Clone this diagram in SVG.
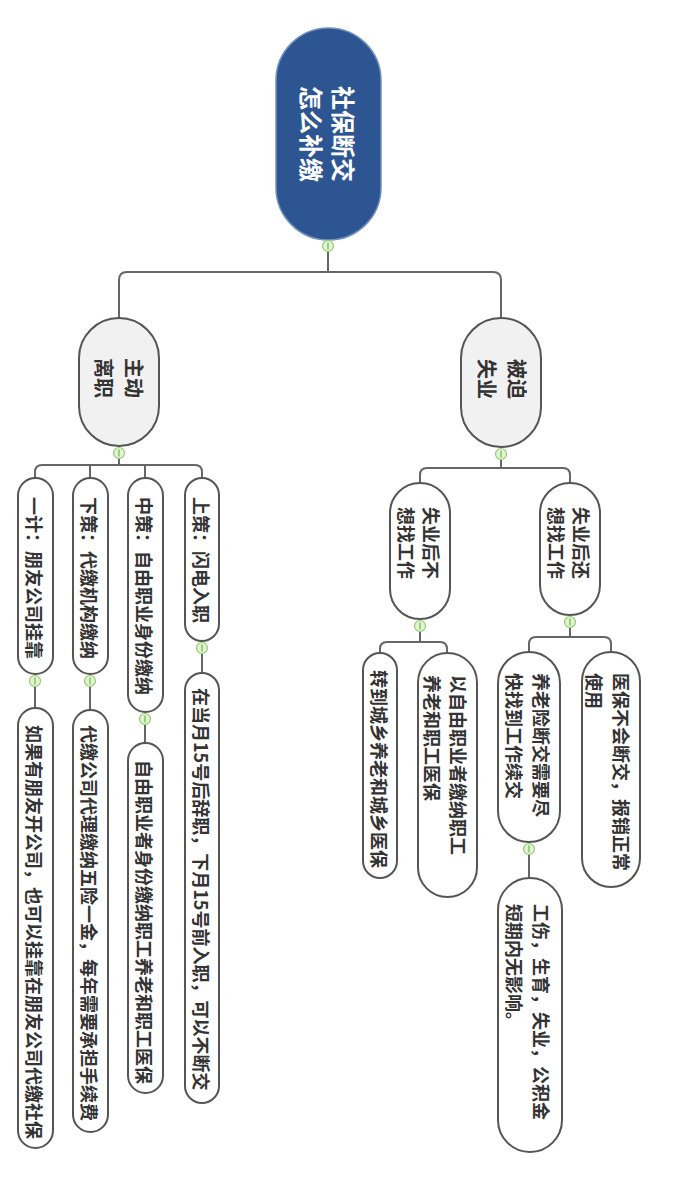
<svg xmlns="http://www.w3.org/2000/svg" width="700" height="1192" viewBox="0 0 700 1192">
<style>
.node{fill:#ffffff;stroke:#555555;stroke-width:2}
.l1{fill:#f1f1f1;stroke:#555555;stroke-width:2}
.root{fill:#2c5592;stroke:#6f8fbf;stroke-width:1.5}
.t{font-family:"Noto Sans CJK SC","Noto Sans",sans-serif;font-size:18px;font-weight:bold;fill:#333333;dominant-baseline:central}
.t1{font-size:20px}
.tr{font-size:24px;fill:#ffffff}
.conn{fill:none;stroke:#666666;stroke-width:2}
.cc{fill:#e2f3d2;stroke:#93cc72;stroke-width:1.2}
.cm{stroke:#6fb64a;stroke-width:1.2}
</style>
<rect width="700" height="1192" fill="#ffffff"/>
<g id="connectors">
<path class="conn" d="M328,251 V272 M119,318 V280 Q119,272 127,272 H493 Q501,272 501,280 V318"/>
<path class="conn" d="M119,459 V465 M35,478 V472 Q35,465 42,465 H195 Q202,465 202,472 V478 M90,465 V478 M145,465 V478"/>
<path class="conn" d="M501,460 V468 M420,483 V475 Q420,468 427,468 H563 Q570,468 570,475 V483"/>
<path class="conn" d="M420,632 V642 M380,653 V649 Q380,642 387,642 H440 Q447,642 447,649 V653"/>
<path class="conn" d="M570,628 V637 M529,652 V644 Q529,637 536,637 H604 Q611,637 611,644 V652"/>
<path class="conn" d="M529,855 V878"/>
<path class="conn" d="M35,687 V708 M90,687 V710 M145,725 V743 M202,654 V673"/>
</g>
<g id="root">
<rect class="root" x="276" y="28" width="105" height="212" rx="52.5"/>
<text class="t tr" transform="translate(344,86) rotate(90)">社保断交</text>
<text class="t tr" transform="translate(312,86) rotate(90)">怎么补缴</text>
<circle class="cc" cx="328" cy="246" r="5.5"/><line class="cm" x1="328" y1="242.5" x2="328" y2="249.5"/>
</g>
<g id="zhudong">
<rect class="l1" x="79" y="318" width="80" height="128" rx="40"/>
<text class="t t1" transform="translate(134,358) rotate(90)">主动</text>
<text class="t t1" transform="translate(104,358) rotate(90)">离职</text>
<circle class="cc" cx="119" cy="453" r="5.5"/><line class="cm" x1="119" y1="449.5" x2="119" y2="456.5"/>
</g>
<g id="beipo">
<rect class="l1" x="461" y="318" width="80" height="129" rx="40"/>
<text class="t t1" transform="translate(517,359) rotate(90)">被迫</text>
<text class="t t1" transform="translate(487,359) rotate(90)">失业</text>
<circle class="cc" cx="501" cy="454" r="5.5"/><line class="cm" x1="501" y1="450.5" x2="501" y2="457.5"/>
</g>
<g id="bu">
<rect class="node" x="390" y="483" width="60" height="136" rx="30"/>
<text class="t" transform="translate(432,507) rotate(90)">失业后不</text>
<text class="t" transform="translate(407,507) rotate(90)">想找工作</text>
<circle class="cc" cx="420" cy="626" r="5.5"/><line class="cm" x1="420" y1="622.5" x2="420" y2="629.5"/>
</g>
<g id="hai">
<rect class="node" x="540" y="483" width="60" height="132" rx="30"/>
<text class="t" transform="translate(582,507) rotate(90)">失业后还</text>
<text class="t" transform="translate(557,507) rotate(90)">想找工作</text>
<circle class="cc" cx="570" cy="622" r="5.5"/><line class="cm" x1="570" y1="618.5" x2="570" y2="625.5"/>
</g>
<g id="zhuan">
<rect class="node" x="363" y="653" width="34" height="225" rx="17"/>
<text class="t" transform="translate(380,670) rotate(90)">转到城乡养老和城乡医保</text>
</g>
<g id="yi">
<rect class="node" x="418" y="653" width="59" height="244" rx="29.5"/>
<text class="t" transform="translate(459,675) rotate(90)">以自由职业者缴纳职工</text>
<text class="t" transform="translate(433,675) rotate(90)">养老和职工医保</text>
</g>
<g id="yang">
<rect class="node" x="498" y="652" width="62" height="190" rx="31"/>
<text class="t" transform="translate(542,673) rotate(90)">养老险断交需要尽</text>
<text class="t" transform="translate(515,673) rotate(90)">快找到工作续交</text>
<circle class="cc" cx="529" cy="849" r="5.5"/><line class="cm" x1="529" y1="845.5" x2="529" y2="852.5"/>
</g>
<g id="yibao">
<rect class="node" x="582" y="652" width="58" height="235" rx="29"/>
<text class="t" transform="translate(622,673) rotate(90)">医保不会断交，报销正常</text>
<text class="t" transform="translate(595,673) rotate(90)">使用</text>
</g>
<g id="gong">
<rect class="node" x="498" y="878" width="64" height="274" rx="32"/>
<text class="t" transform="translate(542,904) rotate(90)">工伤，生育，失业，公积金</text>
<text class="t" transform="translate(515,904) rotate(90)">短期内无影响。</text>
</g>
<g id="yiji">
<rect class="node" x="18" y="478" width="35" height="196" rx="17.5"/>
<text class="t" transform="translate(35,497) rotate(90)">一计：朋友公司挂靠</text>
<circle class="cc" cx="35" cy="681" r="5.5"/><line class="cm" x1="35" y1="677.5" x2="35" y2="684.5"/>
</g>
<g id="xia">
<rect class="node" x="73" y="478" width="35" height="196" rx="17.5"/>
<text class="t" transform="translate(90,497) rotate(90)">下策：代缴机构缴纳</text>
<circle class="cc" cx="90" cy="681" r="5.5"/><line class="cm" x1="90" y1="677.5" x2="90" y2="684.5"/>
</g>
<g id="zhong">
<rect class="node" x="128" y="478" width="35" height="234" rx="17.5"/>
<text class="t" transform="translate(145,497) rotate(90)">中策：自由职业身份缴纳</text>
<circle class="cc" cx="145" cy="719" r="5.5"/><line class="cm" x1="145" y1="715.5" x2="145" y2="722.5"/>
</g>
<g id="shang">
<rect class="node" x="185" y="478" width="34" height="163" rx="17"/>
<text class="t" transform="translate(202,497) rotate(90)">上策：闪电入职</text>
<circle class="cc" cx="202" cy="648" r="5.5"/><line class="cm" x1="202" y1="644.5" x2="202" y2="651.5"/>
</g>
<g id="g1">
<rect class="node" x="18" y="708" width="35" height="440" rx="17.5"/>
<text class="t" transform="translate(35,725) rotate(90)">如果有朋友开公司，也可以挂靠在朋友公司代缴社保</text>
</g>
<g id="g2">
<rect class="node" x="73" y="710" width="35" height="422" rx="17.5"/>
<text class="t" transform="translate(90,725) rotate(90)">代缴公司代理缴纳五险一金，每年需要承担手续费</text>
</g>
<g id="g3">
<rect class="node" x="128" y="743" width="35" height="350" rx="17.5"/>
<text class="t" transform="translate(145,760) rotate(90)">自由职业者身份缴纳职工养老和职工医保</text>
</g>
<g id="g4">
<rect class="node" x="185" y="673" width="34" height="430" rx="17"/>
<text class="t" transform="translate(202,688) rotate(90)">在当月15号后辞职，下月15号前入职，可以不断交</text>
</g>
</svg>
